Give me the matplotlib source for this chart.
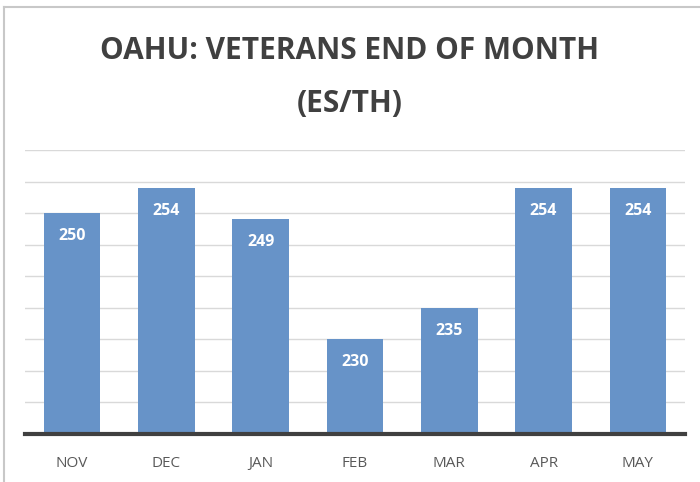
import matplotlib
matplotlib.use("Agg")
import matplotlib.pyplot as plt
from matplotlib.lines import Line2D

months = ["NOV", "DEC", "JAN", "FEB", "MAR", "APR", "MAY"]
values = [250, 254, 249, 230, 235, 254, 254]
title_lines = ["OAHU: VETERANS END OF MONTH", "(ES/TH)"]
y_min, y_max, y_step = 215, 260, 5

plt.rcParams['font.family'] = ['Open Sans', 'DejaVu Sans']

fig = plt.figure(figsize=(7.0, 4.82), dpi=100)
ax = fig.add_axes([25/700, 1-434/482, 660/700, (434-150)/482])

bar_color = "#6793C8"
x = list(range(len(months)))
ax.bar(x, [v - y_min for v in values], bottom=y_min, width=0.6, color=bar_color, zorder=3)
for xi, v in zip(x, values):
    ax.annotate(str(v), (xi, v), xytext=(0, -23), textcoords="offset pixels",
                ha="center", va="center", color="white", fontsize=11.5, fontweight="bold", zorder=4)

ax.set_xlim(-0.5, len(months) - 0.5)
ax.set_ylim(y_min, y_max)
ax.set_yticks(range(y_min, y_max + 1, y_step))
ax.yaxis.grid(True, color="#D9D9D9", linewidth=1.0, zorder=0)
ax.set_yticklabels([])
ax.tick_params(axis="y", length=0)
ax.set_xticks(x)
ax.set_xticklabels(months, color="#595959", fontsize=11)
ax.tick_params(axis="x", length=0, pad=16)
for s in ["top", "right", "left"]:
    ax.spines[s].set_visible(False)
ax.spines["bottom"].set_color("#404040")
ax.spines["bottom"].set_linewidth(3)
ax.spines["bottom"].set_zorder(5)

fig.text(0.5, 1-51/482, title_lines[0], ha="center", va="center", fontsize=21.5,
         fontweight="bold", color="#404040")
fig.text(0.5, 1-104/482, title_lines[1], ha="center", va="center", fontsize=21.5,
         fontweight="bold", color="#404040")

# frame lines (left and top)
fig.add_artist(Line2D([3.5/700, 3.5/700], [0, 1-7/482], color="#C8C8C8", linewidth=1.5, transform=fig.transFigure))
fig.add_artist(Line2D([3.5/700, 1], [1-7/482, 1-7/482], color="#C8C8C8", linewidth=1.5, transform=fig.transFigure))

fig.savefig("out.png", dpi=100, facecolor="white")
